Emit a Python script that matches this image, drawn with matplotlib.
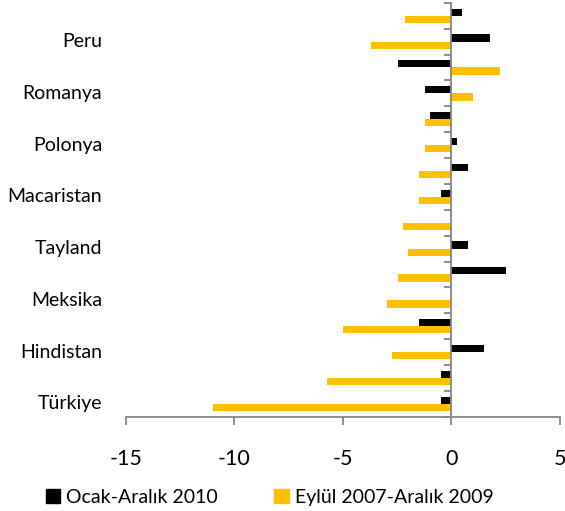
import matplotlib
matplotlib.use("Agg")
import matplotlib.pyplot as plt
import numpy as np
from matplotlib.patches import Patch

plt.rcParams['font.family'] = ['Lato', 'DejaVu Sans']

# Categories bottom to top; only every other one carries a drawn label
categories = ["Türkiye", "", "Hindistan", "", "Meksika", "", "Tayland", "",
              "Macaristan", "", "Polonya", "", "Romanya", "", "Peru", ""]
ocak_2010 = [-0.48, -0.48, 1.52, -1.48, 0.0, 2.52, 0.77, 0.0,
             -0.48, 0.77, 0.26, -0.97, -1.23, -2.48, 1.77, 0.51]
eylul_2007_2009 = [-11.0, -5.74, -2.73, -4.99, -2.99, -2.48, -1.99, -2.23,
                   -1.48, -1.48, -1.23, -1.23, 1.01, 2.26, -3.73, -2.14]
series_labels = ["Ocak-Aralık 2010", "Eylül 2007-Aralık 2009"]
x_ticks = [-15, -10, -5, 0, 5]

BLACK = "#000000"
GOLD = "#FFC000"
GRAY = "#868686"

fig = plt.figure(figsize=(5.65, 5.11), dpi=100)
ax = fig.add_axes([0.223, 0.1845, 0.768, 0.81])

y = np.arange(len(categories))
h = 0.28
ax.barh(y + h / 2, ocak_2010, height=h, color=BLACK, label=series_labels[0])
ax.barh(y - h / 2, eylul_2007_2009, height=h, color=GOLD, label=series_labels[1])

ax.set_xlim(-15, 5)
ax.set_ylim(-0.5, len(categories) - 0.5)
ax.set_xticks(x_ticks)
ax.set_xticklabels([str(t) for t in x_ticks], fontsize=15.5)

# Vertical axis line sits at zero, ticks mark category boundaries
ax.spines['left'].set_position(('data', 0))
ax.spines['left'].set_color(GRAY)
ax.spines['left'].set_linewidth(1.3)
ax.spines['bottom'].set_color(GRAY)
ax.spines['bottom'].set_linewidth(1.3)
ax.spines['top'].set_visible(False)
ax.spines['right'].set_visible(False)
ax.set_yticks(np.arange(-0.5, len(categories), 1.0))
ax.set_yticklabels([])
ax.tick_params(axis='y', direction='out', length=5, width=1.3, color=GRAY)
ax.tick_params(axis='x', direction='out', length=6, width=1.3, color=GRAY, pad=17)

# Category names placed along the low end of the axes
for yi, name in zip(y, categories):
    if name:
        ax.text(-0.055, yi, name, transform=ax.get_yaxis_transform(),
                ha='right', va='center', fontsize=14)

handles = [Patch(color=BLACK), Patch(color=GOLD)]
fig.legend(handles, series_labels, loc='center', bbox_to_anchor=(0.477, 0.027),
           ncol=2, frameon=False, fontsize=14, handlelength=0.75, handleheight=0.75,
           handletextpad=0.3, columnspacing=2.9)

fig.savefig("out.png", dpi=100)
